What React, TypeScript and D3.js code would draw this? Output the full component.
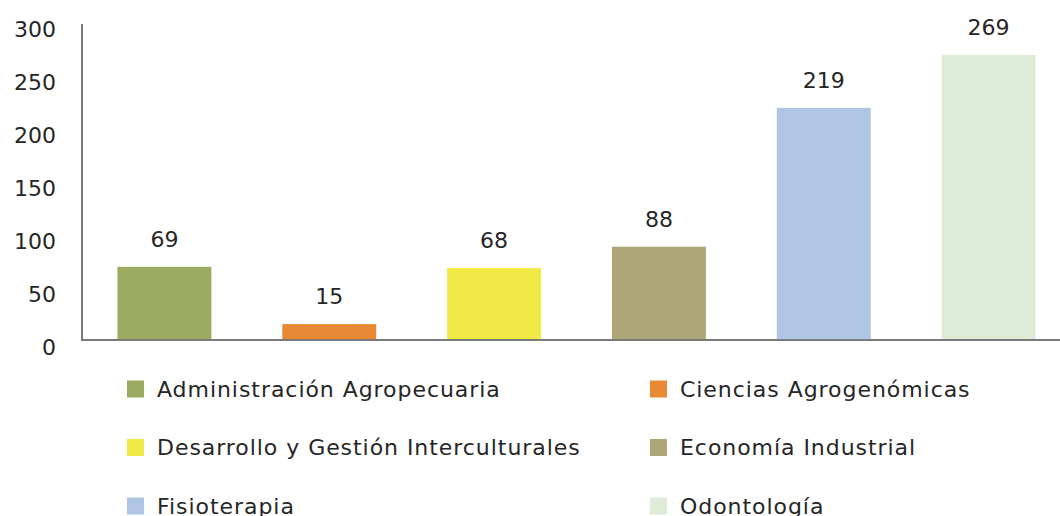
import React from "react";
import * as d3 from "d3";

const programs = [
  "Administración Agropecuaria",
  "Ciencias Agrogenómicas",
  "Desarrollo y Gestión Interculturales",
  "Economía Industrial",
  "Fisioterapia",
  "Odontología",
];
const students = [69, 15, 68, 88, 219, 269];
const colors = ["#9bac62", "#e88a35", "#f0e946", "#ada678", "#afc5e3", "#ddebd7"];
const yTicks = [0, 50, 100, 150, 200, 250, 300];

const W = 1060;
const H = 516;
const FONT = "'DejaVu Sans', sans-serif";

export default function App() {
  const x = d3.scaleBand<string>().domain(programs).range([82, 1071]).paddingInner(0.43).paddingOuter(0.215);
  const y = d3.scaleLinear().domain([0, 300]).range([340, 22]);

  return (
    <svg width={W} height={H} style={{ position: "absolute", left: 0, top: 0, background: "#fff" }}>
      {/* y tick labels (sit a little below their value, as in the source) */}
      {yTicks.map((t) => (
        <text key={t} x={56} y={y(t) + 7} textAnchor="end" dominantBaseline="central"
          fontFamily={FONT} fontSize={22} fill="#262626">{t}</text>
      ))}

      {programs.map((p, i) => (
        <g key={p}>
          <rect x={x(p)} y={y(students[i])} width={x.bandwidth()} height={y(0) - y(students[i])} fill={colors[i]} />
          <text x={(x(p) ?? 0) + x.bandwidth() / 2} y={y(students[i]) - 20} textAnchor="middle"
            fontFamily={FONT} fontSize={22} fill="#262626">{students[i]}</text>
        </g>
      ))}

      {/* axes */}
      <line x1={82} x2={82} y1={24} y2={341} stroke="#7a7a7a" strokeWidth={2} />
      <line x1={81} x2={W} y1={340} y2={340} stroke="#7a7a7a" strokeWidth={2} />

      {/* legend, two columns; last row is clipped by the bottom edge like the source */}
      {programs.map((p, i) => {
        const col = i % 2;
        const row = Math.floor(i / 2);
        const lx = col === 0 ? 127 : 650;
        const ly = 389 + row * 58.5;
        return (
          <g key={"lg" + p}>
            <rect x={lx} y={ly - 8.5} width={17} height={17} fill={colors[i]} />
            <text x={lx + 30} y={ly} dominantBaseline="central" fontFamily={FONT}
              fontSize={22} letterSpacing={0.95} fill="#262626">{p}</text>
          </g>
        );
      })}
    </svg>
  );
}
